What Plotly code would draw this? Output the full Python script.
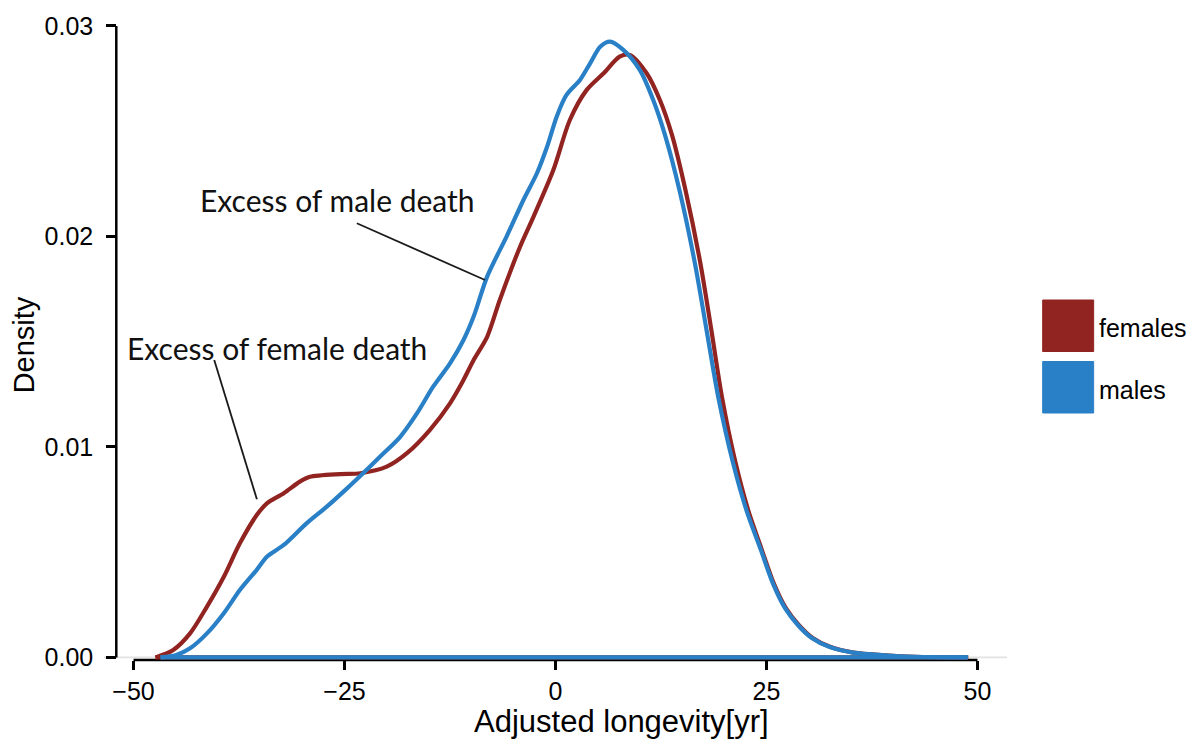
import plotly.graph_objects as go

# Kernel density estimates of adjusted longevity (years) by sex
female_x = [-47.4, -45.3, -43.3, -41.3, -39.3, -37.4, -35.4, -34.2, -32.2, -30.3,
            -29.1, -25.5, -23.1, -20.0, -17.6, -14.9, -12.5, -10.9, -9.7, -8.1,
            -6.6, -4.2, -2.6, -0.26, 1.7, 3.7, 5.7, 7.6, 8.8, 10.8,
            12.37, 13.8, 15.45, 17.17, 18.47, 19.72, 21.35, 22.83, 24.45, 25.85,
            27.28, 28.82, 30.47, 32.6, 35.33, 39.1, 42.66, 48.9]
female_y = [0.0, 0.00035, 0.00114, 0.00241, 0.00383, 0.00542, 0.00676, 0.00732, 0.0078, 0.00835,
            0.00858, 0.00871, 0.00875, 0.00906, 0.0097, 0.0108, 0.01207, 0.01318, 0.01413, 0.01523,
            0.01698, 0.01951, 0.02094, 0.02315, 0.02553, 0.02696, 0.02775, 0.02854, 0.02862, 0.02775,
            0.02648, 0.02482, 0.02211, 0.01872, 0.01555, 0.01238, 0.00922, 0.0070, 0.00511, 0.00353,
            0.00235, 0.00154, 0.00092, 0.00049, 0.00023, 0.0001, 0.00003, 0.0]

male_x = [-46.8, -45.0, -43.3, -41.3, -39.3, -37.4, -35.4, -34.2, -32.2, -29.5,
          -27.1, -24.7, -22.8, -20.8, -18.4, -16.4, -14.5, -12.5, -10.9, -9.7,
          -8.1, -5.8, -3.8, -2.2, -1.0, 0.14, 1.3, 2.9, 4.1, 5.3,
          6.45, 8.03, 10.0, 11.58, 12.97, 14.74, 16.52, 17.9, 19.28, 21.05,
          22.62, 24.33, 25.75, 27.18, 28.72, 30.37, 32.5, 35.23, 39.0, 42.56, 48.85]
male_y = [0.0, 0.0001, 0.00043, 0.00114, 0.0021, 0.0032, 0.00416, 0.00478, 0.00534, 0.00637,
          0.00716, 0.00803, 0.00875, 0.00953, 0.01048, 0.0116, 0.01286, 0.01397, 0.01508, 0.01619,
          0.01809, 0.01999, 0.02173, 0.023, 0.02426, 0.02569, 0.02672, 0.02743, 0.02822, 0.02901,
          0.02925, 0.02886, 0.0279, 0.02648, 0.02482, 0.02211, 0.01872, 0.01555, 0.01238, 0.00922,
          0.0070, 0.00511, 0.00353, 0.00235, 0.00154, 0.00092, 0.00049, 0.00023, 0.0001, 0.00003, 0.0]

series_names = ["females", "males"]
series_colors = ["#912420", "#2A80C6"]

x_ticks = [-50, -25, 0, 25, 50]
y_ticks = [0.00, 0.01, 0.02, 0.03]
y_tick_text = ["0.00", "0.01", "0.02", "0.03"]

# figure geometry (pixels)
W, H = 1192, 740
ML, MR, MT, MB = 103.7, 184.7, 10, 80
PW, PH = W - ML - MR, H - MT - MB


def px_x(p):
    return (p - ML) / PW


def px_y(p):
    return (H - MB - p) / PH


fig = go.Figure()

# light reference line at zero density
fig.add_shape(type="line", xref="paper", yref="y", x0=0, x1=1, y0=0, y1=0,
              line=dict(color="#e2e2e2", width=1.6), layer="below")

for xs, ys, color in [(female_x, female_y, series_colors[0]),
                      (male_x, male_y, series_colors[1])]:
    fig.add_trace(go.Scatter(x=xs, y=ys, mode="lines",
                             line=dict(color=color, width=4.2, shape="spline", smoothing=0.8),
                             showlegend=False, hoverinfo="skip"))
    fig.add_trace(go.Scatter(x=[xs[0], xs[-1]], y=[0, 0], mode="lines",
                             line=dict(color=color, width=4.2),
                             showlegend=False, hoverinfo="skip"))

# range-frame axis lines
fig.add_shape(type="line", xref="paper", yref="y", x0=px_x(116), x1=px_x(116),
              y0=y_ticks[0], y1=y_ticks[-1], line=dict(color="black", width=2.5), layer="below")
fig.add_shape(type="line", xref="x", yref="paper", x0=x_ticks[0], x1=x_ticks[-1],
              y0=0, y1=0, line=dict(color="black", width=2.5), layer="below")

# annotation leader lines
fig.add_shape(type="line", xref="paper", yref="paper",
              x0=px_x(356.7), y0=px_y(223.3), x1=px_x(485), y1=px_y(280),
              line=dict(color="#1a1a1a", width=1.8))
fig.add_shape(type="line", xref="paper", yref="paper",
              x0=px_x(214), y0=px_y(360), x1=px_x(256.7), y1=px_y(499.3),
              line=dict(color="#1a1a1a", width=1.8))

note_font = dict(family="Lato, 'Open Sans', sans-serif", size=30, color="#111111")
fig.add_annotation(xref="paper", yref="paper", x=px_x(198), y=px_y(200),
                   text="Excess of male death", showarrow=False,
                   xanchor="left", yanchor="middle", font=note_font)
fig.add_annotation(xref="paper", yref="paper", x=px_x(125), y=px_y(348),
                   text="Excess of female death", showarrow=False,
                   xanchor="left", yanchor="middle", font=note_font)

# axis titles
fig.add_annotation(xref="paper", yref="paper", x=px_x(622), y=px_y(721),
                   text="Adjusted longevity[yr]", showarrow=False,
                   xanchor="center", yanchor="middle",
                   font=dict(family="Liberation Sans, Arial, sans-serif", size=31, color="black"))
fig.add_annotation(xref="paper", yref="paper", x=px_x(24), y=px_y(345),
                   text="Density", showarrow=False, textangle=-90,
                   xanchor="center", yanchor="middle",
                   font=dict(family="Liberation Sans, Arial, sans-serif", size=29, color="black"))

# legend keys
legend_tops = [300, 361.5]
for name, color, top in zip(series_names, series_colors, legend_tops):
    fig.add_shape(type="rect", xref="paper", yref="paper",
                  x0=px_x(1043), x1=px_x(1094), y0=px_y(top), y1=px_y(top + 51.5),
                  fillcolor=color, line=dict(color=color, width=1))
    fig.add_annotation(xref="paper", yref="paper", x=px_x(1097), y=px_y(top + 28),
                       text=name, showarrow=False, xanchor="left", yanchor="middle",
                       font=dict(family="Liberation Sans, Arial, sans-serif", size=25, color="black"))

tick_font = dict(family="Liberation Sans, Arial, sans-serif", size=25, color="black")
fig.update_layout(
    width=W, height=H,
    margin=dict(l=ML, r=MR, t=MT, b=MB, pad=0),
    plot_bgcolor="white", paper_bgcolor="white",
    showlegend=False,
    xaxis=dict(range=[-53.5, 53.5], tickvals=x_ticks, ticks="outside", ticklen=9,
               tickwidth=2.5, tickcolor="black", showgrid=False, zeroline=False,
               showline=False, tickfont=tick_font, ticklabelstandoff=0),
    yaxis=dict(range=[-(660 - 657.4) / 21050, 0.03 + (657.4 - 0.03 * 21050 - MT) / 21050],
               tickvals=y_ticks, ticktext=y_tick_text, ticks="outside", ticklen=10,
               tickwidth=2.5, tickcolor="black", showgrid=False, zeroline=False,
               showline=False, anchor="free", position=px_x(116),
               tickfont=tick_font, ticklabelstandoff=8),
)

fig.write_html("out.html")
